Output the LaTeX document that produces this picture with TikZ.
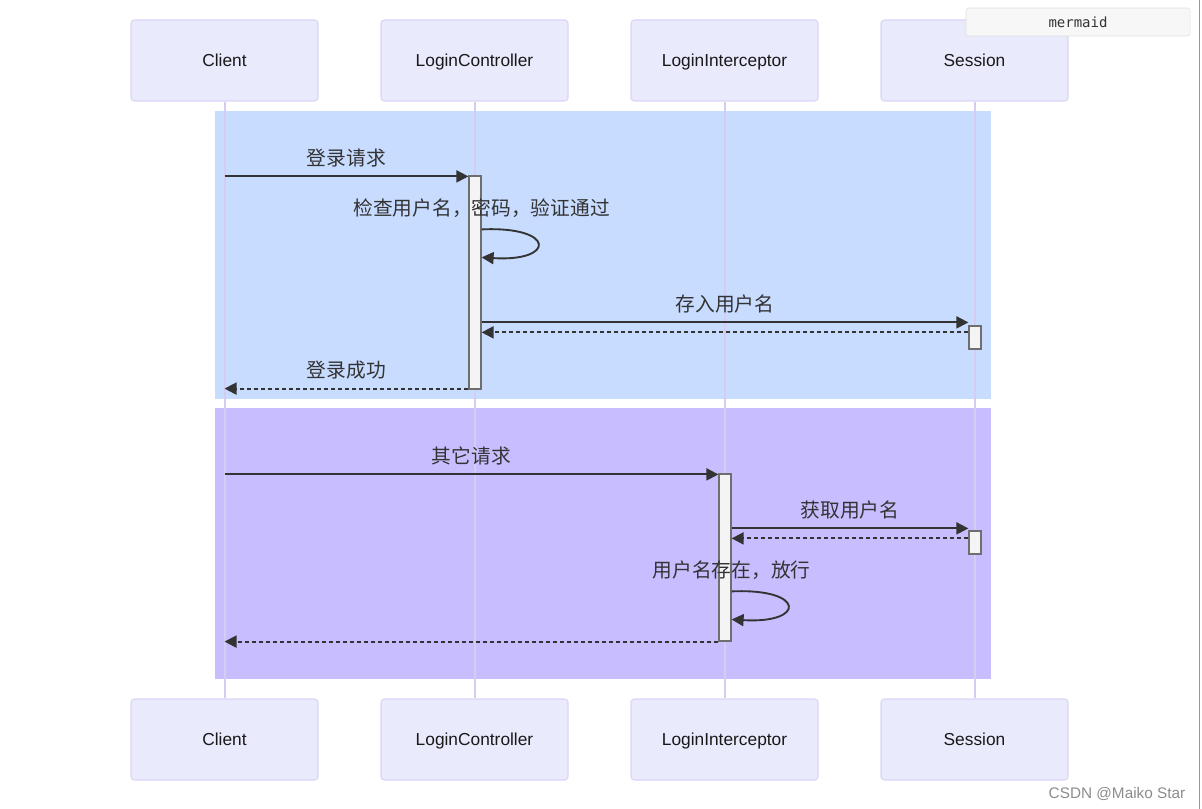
\documentclass[tikz,border=0pt]{standalone}
\usepackage{fontspec}
\setmainfont{Liberation Sans}
\setmonofont{DejaVu Sans Mono}
\newfontfamily\cjk{Noto Sans CJK SC}
\usetikzlibrary{arrows.meta}
\usetikzlibrary{calc}

\definecolor{actfill}{RGB}{234,234,253}
\definecolor{actline}{RGB}{218,212,246}
\definecolor{lifeline}{RGB}{214,204,242}
\definecolor{loginbg}{RGB}{200,220,255}
\definecolor{otherbg}{RGB}{200,190,255}
\definecolor{msgcol}{RGB}{51,51,51}
\definecolor{actvfill}{RGB}{244,244,244}
\definecolor{actvline}{RGB}{110,110,110}

\begin{document}
\begin{tikzpicture}[x=0.75pt, y=-0.75pt,
	actor/.style={draw=actline, fill=actfill, rounded corners=2.5pt, line width=0.8pt,
		minimum width=140.25pt, minimum height=60.75pt, text height=12.4pt, text depth=2.7pt,
		font=\fontsize{13}{15}\selectfont, text=black!90},
	life/.style={draw=lifeline, line width=1.5pt},
	actv/.style={draw=actvline, fill=actvfill, line width=0.9pt, minimum width=9pt, inner sep=0pt},
	msg/.style={draw=msgcol, line width=1.4pt, -{Triangle[length=9pt, width=9pt]}},
	reply/.style={msg, dash pattern=on 3pt off 2.25pt},
	lbl/.style={font=\cjk\fontsize{14.8}{16}\selectfont, text=msgcol, inner sep=2pt}
	]
	
	\useasboundingbox (0,0) rectangle (1202,809);
	
	% highlighted blocks
	\fill[loginbg] (215,111) rectangle (991,399);
	\fill[otherbg] (215,408) rectangle (991,679);
	
	% participants
	\node[actor] at (224.5,60.5) (cT) {Client};
	\node[actor] at (474.5,60.5) (lcT) {LoginController};
	\node[actor] at (724.5,60.5) (liT) {LoginInterceptor};
	\node[actor] at (974.5,60.5) (sT) {Session};
	\node[actor] at (224.5,739.5) (cB) {Client};
	\node[actor] at (474.5,739.5) (lcB) {LoginController};
	\node[actor] at (724.5,739.5) (liB) {LoginInterceptor};
	\node[actor] at (974.5,739.5) (sB) {Session};
	
	\draw[life] (cT.south) -- (cB.north);
	\draw[life] (lcT.south) -- (lcB.north);
	\draw[life] (liT.south) -- (liB.north);
	\draw[life] (sT.south) -- (sB.north);
	
	% activations
	\node[actv, minimum height=159.75pt] at (475,282.5) (a1) {};
	\node[actv, minimum height=17.25pt] at (975,337.5) (s1) {};
	\node[actv, minimum height=125.25pt] at (725,557.5) (a2) {};
	\node[actv, minimum height=17.25pt] at (975,542.5) (s2) {};
	
	% login block
	\draw[msg] ($(cT |- a1.north)+(0,1)$) -- node[lbl, above=4pt] (l1) {登录请求} ($(a1.north west)+(0,1)$);
	\draw[msg] ($(a1.north east)+(0,54)$) node[lbl, above=6pt] (l2) {检查用户名，密码，验证通过}
		.. controls (556,226) and (556,262) .. ($(a1.north east)+(0,82)$);
	\draw[msg] ($(a1.north east)+(0,147)$) -- node[lbl, above=4pt] (l3) {存入用户名} ($(s1.north west)+(0,-3)$);
	\draw[reply] ($(s1.north west)+(0,7)$) -- ($(a1.north east)+(0,157)$);
	\draw[reply] ($(a1.south west)+(0,-1)$) -- node[lbl, above=4pt] (l5) {登录成功} ($(cT |- a1.south)+(0,-1)$);
	
	% other requests block
	\draw[msg] ($(cT |- a2.north)+(0,1)$) -- node[lbl, above=4pt] (l6) {其它请求} ($(a2.north west)+(0,1)$);
	\draw[msg] ($(a2.north east)+(0,55)$) -- node[lbl, above=4pt] (l7) {获取用户名} ($(s2.north west)+(0,-2)$);
	\draw[reply] ($(s2.north west)+(0,8)$) -- ($(a2.north east)+(0,65)$);
	\draw[msg] ($(a2.north east)+(0,118)$) node[lbl, above=6pt] (l9) {用户名存在，放行}
		.. controls (806,588) and (806,624) .. ($(a2.north east)+(0,146)$);
	\draw[reply] (a2.south west) -- (cT |- a2.south);
	
	% page furniture
	\node[draw=black!12, fill=black!3, rounded corners=2pt, minimum width=168pt, minimum height=21pt,
		font=\ttfamily\fontsize{10.5}{12}\selectfont, text=msgcol] at (1078,22) (mm) {mermaid};
	\draw[black!40, line width=0.6pt] (1199,0) -- (1199,809);
	\node[font=\fontsize{11.5}{13}\selectfont, text=black!45] at (1117,794) (csdn) {CSDN @Maiko Star};
	
\end{tikzpicture}
\end{document}
